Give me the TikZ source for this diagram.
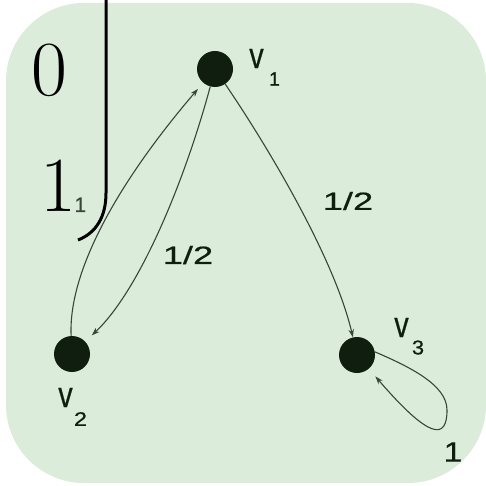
\documentclass[tikz,border=0pt]{standalone}
\usepackage{fontspec}
\newfontfamily\labfont[FakeBold=0.5]{Liberation Sans}
\usetikzlibrary{arrows.meta}
\definecolor{bg}{RGB}{220,236,219}
\definecolor{ink}{RGB}{15,30,15}
\definecolor{edgec}{RGB}{55,70,55}
\begin{document}
\begin{tikzpicture}[x=1pt,y=1pt,
  vert/.style={circle,fill=ink,minimum size=36pt,inner sep=0pt},
  lab/.style={inner sep=0pt,text=ink,font=\labfont},
  big/.style={inner sep=0pt,text=black,font=\fontsize{78}{78}\selectfont},
  arc/.style={draw=edgec,line width=1.1pt,-{Stealth[length=8pt,width=5.5pt]}}]
\useasboundingbox (0,0) rectangle (486,485);
\fill[bg,rounded corners=78pt] (6,2) rectangle (486,482);
% matrix fragment
\draw[line width=3pt] (106,486) -- (106,292) .. controls (106,268) and (96,252) .. (78,245);
\node[big] (z0) at (49.5,415) {0};
\node[big,anchor=base west] (z1) at (40,273) {1\kern-1.5pt{\labfont\fontsize{21}{21}\selectfont\color{edgec}1}};
% vertices
\node[vert] (v1) at (215,416) {};
\node[vert] (v2) at (72,131) {};
\node[vert] (v3) at (357,130) {};
% vertex labels
\node[lab] (l1) at (256.5,426.5) {\scalebox{0.8}[1]{\fontsize{36}{36}\selectfont v}};
\node[lab] (l1s) at (274.5,406) {\fontsize{19.5}{19.5}\selectfont 1};
\node[lab] (l2) at (65.5,87.5) {\scalebox{0.8}[1]{\fontsize{36}{36}\selectfont v}};
\node[lab] (l2s) at (80.5,66) {\scalebox{1.2}[1]{\fontsize{19.5}{19.5}\selectfont 2}};
\node[lab] (l3) at (401.5,157.5) {\scalebox{0.8}[1]{\fontsize{36}{36}\selectfont v}};
\node[lab] (l3s) at (418,137.5) {\scalebox{1.1}[1]{\fontsize{20}{20}\selectfont 3}};
% edges
\draw[arc,shorten >=8pt] (v2) .. controls (68,215) and (120,305) .. (v1);
\draw[arc,shorten >=9pt] (v1) .. controls (185,305) and (140,195) .. (v2);
\draw[arc] (v1) .. controls (270,335) and (335,225) .. (v3);
\draw[arc,shorten >=10pt] (v3.10) .. controls (410,118) and (447,100) .. (447,75)
   .. controls (447,45) and (430,45) .. (v3);
% edge labels
\node[lab] (e13) at (348,284) {\scalebox{1.45}[1]{\fontsize{25}{25}\selectfont 1/2}};
\node[lab] (e12) at (188,230) {\scalebox{1.45}[1]{\fontsize{25}{25}\selectfont 1/2}};
\node[lab] (e33) at (453,33) {\scalebox{1.2}[1]{\fontsize{28}{28}\selectfont 1}};
\end{tikzpicture}
\end{document}
